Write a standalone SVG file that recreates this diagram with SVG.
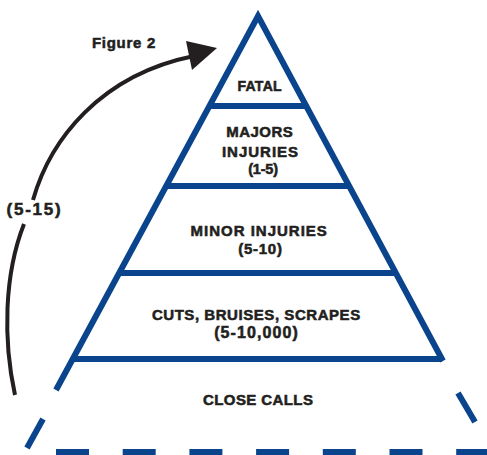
<svg xmlns="http://www.w3.org/2000/svg" width="487" height="455" viewBox="0 0 487 455">
  <style>
    .t { font-family: "Liberation Sans", Arial, sans-serif; font-weight: bold; fill: #231f20; stroke: #231f20; stroke-width: 0.55; text-anchor: middle; }
    .blue { stroke: #0a448c; stroke-width: 6; fill: none; }
    .arc { stroke: #231f20; stroke-width: 4; fill: none; }
  </style>
  <rect width="487" height="455" fill="#ffffff"/>
  <g id="connectors">
    <path class="arc" d="M 15 395 C 3 340, 4 275, 24 224"/>
    <path class="arc" d="M 33 200 C 50 140, 100 75, 194 56"/>
    <polygon points="217,48 186,41 192,70" fill="#231f20"/>
  </g>
  <g id="pyramid">
    <path class="blue" d="M 56 390 L 258 16 L 443 361" stroke-linejoin="miter" stroke-miterlimit="10"/>
    <line class="blue" x1="209" y1="106" x2="306" y2="106"/>
    <line class="blue" x1="166" y1="186" x2="349" y2="186"/>
    <line class="blue" x1="119" y1="273" x2="396" y2="273"/>
    <line class="blue" x1="72" y1="359" x2="442" y2="359"/>
    <line class="blue" x1="27" y1="448" x2="43" y2="419"/>
    <line class="blue" x1="458" y1="393" x2="475" y2="422"/>
    <line class="blue" x1="56" y1="452" x2="487" y2="452" stroke-width="7" stroke-dasharray="33 33.7"/>
  </g>
  <g id="figure-label">
    <text class="t" x="92" y="48" font-size="15" letter-spacing="0.7" style="text-anchor:start">Figure 2</text>
  </g>
  <g id="range-label">
    <text class="t" x="34.5" y="215" font-size="17" letter-spacing="1.8">(5-15)</text>
  </g>
  <g id="fatal">
    <text class="t" x="259.7" y="91" font-size="14" letter-spacing="0.3">FATAL</text>
  </g>
  <g id="majors">
    <text class="t" x="259.8" y="137" font-size="15" letter-spacing="0.5">MAJORS</text>
    <text class="t" x="260.5" y="157" font-size="15" letter-spacing="1">INJURIES</text>
    <text class="t" x="263" y="173.5" font-size="14.5" letter-spacing="-0.2">(1-5)</text>
  </g>
  <g id="minor">
    <text class="t" x="259.2" y="236" font-size="15" letter-spacing="1">MINOR INJURIES</text>
    <text class="t" x="260.4" y="254" font-size="15" letter-spacing="0.75">(5-10)</text>
  </g>
  <g id="cuts">
    <text class="t" x="256.3" y="320" font-size="15" letter-spacing="0.55">CUTS, BRUISES, SCRAPES</text>
    <text class="t" x="256.6" y="338" font-size="16" letter-spacing="1.1">(5-10,000)</text>
  </g>
  <g id="close-calls">
    <text class="t" x="258.2" y="405" font-size="15" letter-spacing="0.4">CLOSE CALLS</text>
  </g>
</svg>
